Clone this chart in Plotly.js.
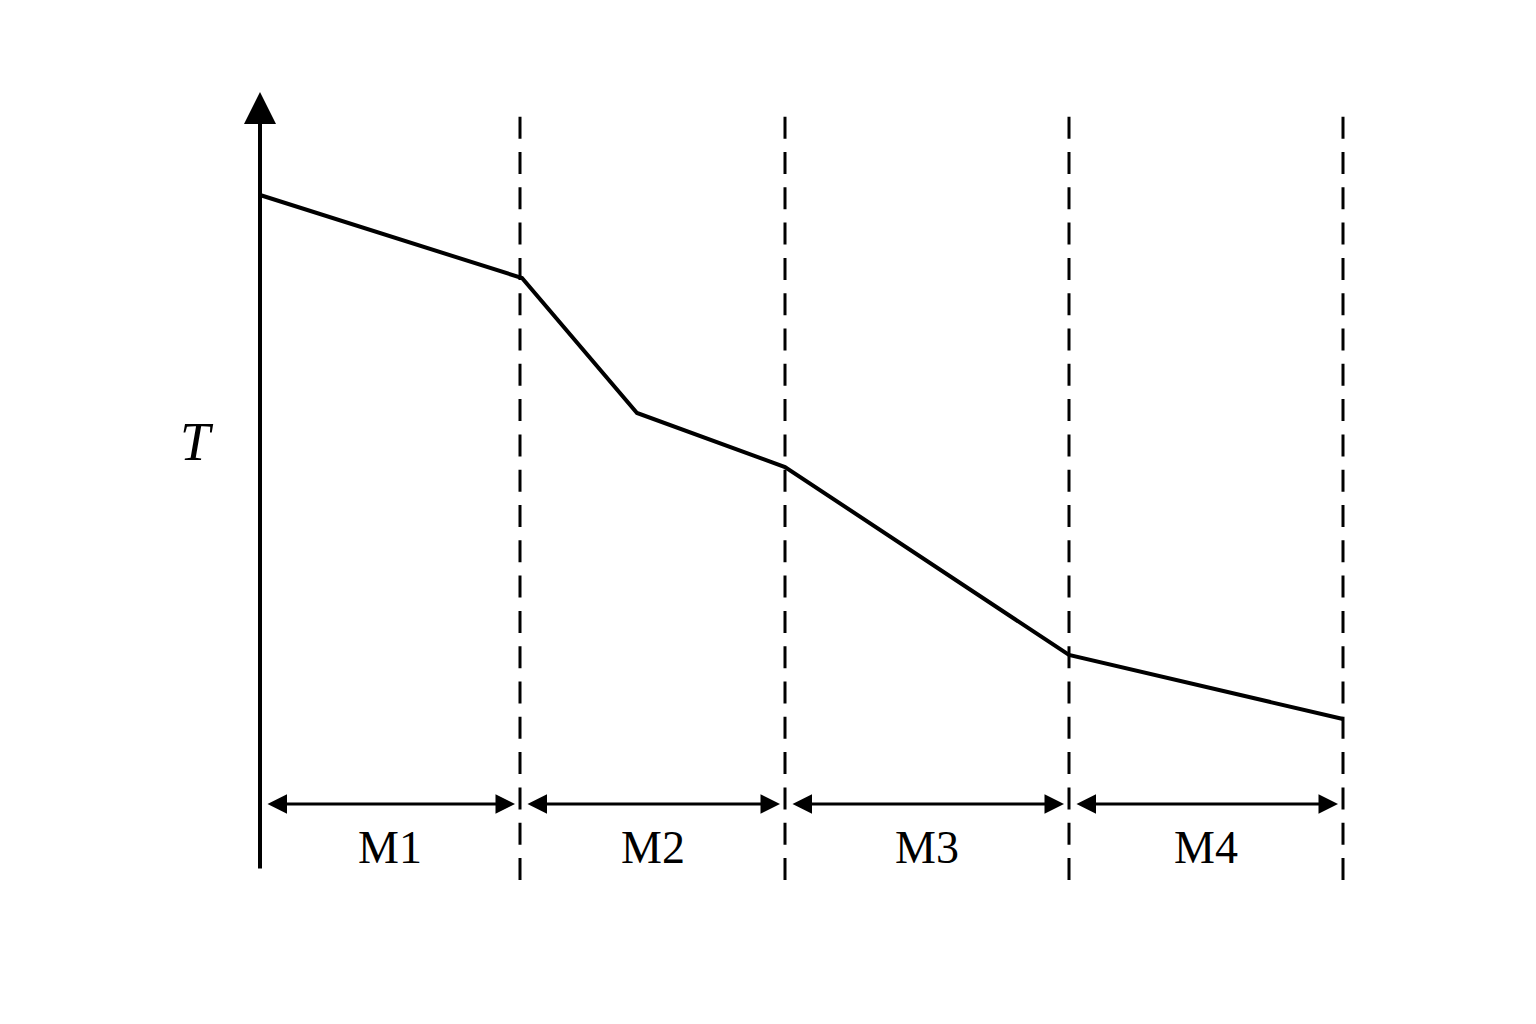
<!DOCTYPE html>
<html>
<head>
<meta charset="utf-8">
<script src="https://cdn.plot.ly/plotly-3.0.1.min.js"></script>
<style>html,body{margin:0;padding:0;background:#fff;}#chart{width:1536px;height:1024px;}</style>
</head>
<body>
<div id="chart"></div>
<script>
// Segment labels and boundaries (distance along the process)
const segments = ['M1', 'M2', 'M3', 'M4'];
const boundaries = [0, 260, 525, 809, 1083];
// Temperature curve
const curveX = [0, 262, 377, 525, 809, 1083];
const curveT = [6.75, 5.92, 4.57, 4.03, 2.15, 1.51];
// Axis extents
const axisTop = 7.78;
const dashTop = 7.533;
const dashBottom = -0.10;
const spanArrowT = 0.66;
const labelT = 0.23;
const yLabel = 'T';

const traces = [{
  x: curveX, y: curveT, mode: 'lines',
  line: {color: '#000', width: 4}, hoverinfo: 'skip', showlegend: false
}];

const shapes = boundaries.slice(1).map(b => ({
  type: 'line', xref: 'x', yref: 'y', x0: b, x1: b, y0: dashTop, y1: dashBottom,
  line: {color: '#000', width: 3, dash: '22px,13.3px'}
}));

const annotations = [];
// vertical axis arrow
annotations.push({
  x: 0, y: axisTop, ax: 0, ay: 0, xref: 'x', yref: 'y', axref: 'x', ayref: 'y',
  text: '', showarrow: true, arrowhead: 2, arrowsize: 1.6, arrowwidth: 4, arrowcolor: '#000'
});
// segment double arrows + labels
for (let i = 0; i < segments.length; i++) {
  const a = boundaries[i], b = boundaries[i + 1];
  annotations.push({
    x: b - 5, y: spanArrowT, ax: a + 6, ay: spanArrowT,
    xref: 'x', yref: 'y', axref: 'x', ayref: 'y',
    text: '', showarrow: true, arrowside: 'end+start',
    arrowhead: 2, startarrowhead: 2, arrowsize: 1.3, startarrowsize: 1.3,
    arrowwidth: 3, arrowcolor: '#000'
  });
  annotations.push({
    x: (a + b) / 2, y: labelT, xref: 'x', yref: 'y', text: segments[i], showarrow: false,
    font: {family: 'Liberation Serif, Times New Roman, serif', size: 46, color: '#000'}
  });
}
annotations.push({
  x: -63, y: 4.28, xref: 'x', yref: 'y', text: '<i>' + yLabel + '</i>', showarrow: false,
  font: {family: 'Liberation Serif, Times New Roman, serif', size: 54, color: '#000'}
});

const layout = {
  width: 1536, height: 1024,
  margin: {l: 0, r: 0, t: 0, b: 0},
  paper_bgcolor: '#fff', plot_bgcolor: '#fff',
  xaxis: {range: [-260, 1276], visible: false, fixedrange: true},
  yaxis: {range: [-1.54, 8.70], visible: false, fixedrange: true},
  shapes: shapes, annotations: annotations, showlegend: false
};

Plotly.newPlot('chart', traces, layout, {staticPlot: true, displayModeBar: false});
</script>
</body>
</html>
